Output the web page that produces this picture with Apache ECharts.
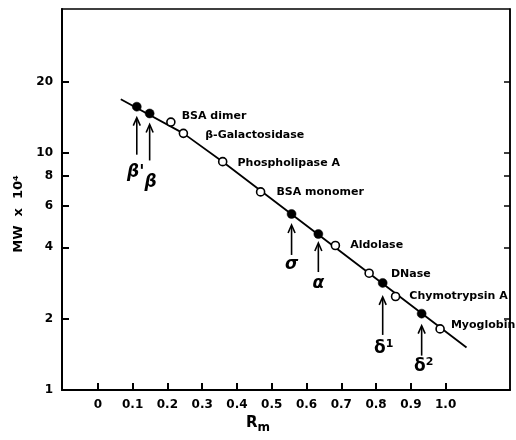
<!DOCTYPE html>
<html><head><meta charset="utf-8">
<script src="https://cdn.jsdelivr.net/npm/echarts@6/dist/echarts.min.js"></script>
<style>html,body{margin:0;padding:0;background:#fff}#c{width:516px;height:440px}</style>
</head><body><div id="c"></div>
<script>
// ---- data ----
const xTicks = [0, 0.1, 0.2, 0.3, 0.4, 0.5, 0.6, 0.7, 0.8, 0.9, 1.0];
const xTickLabels = ['0', '0.1', '0.2', '0.3', '0.4', '0.5', '0.6', '0.7', '0.8', '0.9', '1.0'];
const yTicks = [1, 2, 4, 6, 8, 10, 20];

// calibration proteins (open circles)
const stdNames = ['BSA dimer', 'β-Galactosidase', 'Phospholipase A', 'BSA monomer', 'Aldolase', 'DNase', 'Chymotrypsin A', 'Myoglobin'];
const stdRm = [0.210, 0.246, 0.359, 0.468, 0.683, 0.780, 0.856, 0.984];
const stdMW = [13.5, 12.1, 9.19, 6.85, 4.07, 3.11, 2.48, 1.81];

// unknown components (filled circles)
const unkNames = ["β'", 'β', 'σ', 'α', 'δ1', 'δ2'];
const unkRm = [0.112, 0.149, 0.557, 0.634, 0.819, 0.931];
const unkMW = [15.68, 14.68, 5.53, 4.55, 2.83, 2.10];

// calibration line vertices
const lineRm = [0.066, 0.246, 0.359, 1.060];
const lineMW = [16.85, 12.1, 9.19, 1.51];

// ---- styling (positions of annotations, not data) ----
const stdLabelOffset = [[1, -6], [12, 2], [5, 1], [6, 0], [5, 0], [12, 1], [4, 0], [1, -4]];
// arrow: head / tail / label distance below the point (px), label dx
const arrowStyle = [
  {head: 11, tail: 48, label: 66, dx: -1},
  {head: 11, tail: 47, label: 69, dx: 1},
  {head: 11, tail: 41, label: 51, dx: 0},
  {head: 9, tail: 38, label: 50, dx: 0},
  {head: 14, tail: 52, label: 66, dx: 1},
  {head: 12, tail: 42, label: 53, dx: 2}
];

const FONT = 'DejaVu Sans';
const chart = echarts.init(document.getElementById('c'), null, {renderer: 'canvas'});

chart.setOption({
  animation: false,
  backgroundColor: '#fff',
  grid: {left: 62, top: 9, right: 6, bottom: 50, show: true, borderColor: '#000', borderWidth: 1.5},
  xAxis: {
    type: 'value', min: -0.103, max: 1.185,
    axisLine: {show: true, onZero: false, lineStyle: {color: '#000', width: 2}},
    splitLine: {show: false},
    axisTick: {show: true, inside: true, length: 7, lineStyle: {color: '#000', width: 2}, customValues: xTicks},
    axisLabel: {
      customValues: xTicks, margin: 9, color: '#000', fontFamily: FONT, fontWeight: 'bold', fontSize: 12,
      formatter: v => { const i = xTicks.findIndex(t => Math.abs(t - v) < 1e-6); return i >= 0 ? xTickLabels[i] : ''; }
    },
    name: '{r|R}{m|m}', nameLocation: 'middle', nameGap: 17,
    nameTextStyle: {padding: [0, 56, 0, 0], rich: {
      r: {fontFamily: FONT, fontWeight: 'bold', fontSize: 15, color: '#000'},
      m: {fontFamily: FONT, fontWeight: 'bold', fontSize: 12, color: '#000', padding: [8, 0, 0, 0]}
    }}
  },
  yAxis: [{
    type: 'log', logBase: 10, min: 1, max: 40.5,
    axisLine: {show: true, onZero: false, lineStyle: {color: '#000', width: 2}},
    splitLine: {show: false},
    minorTick: {show: false},
    axisTick: {show: true, inside: true, length: 7, lineStyle: {color: '#000', width: 2}, customValues: yTicks},
    axisLabel: {customValues: yTicks, margin: 9, color: '#000', fontFamily: FONT, fontWeight: 'bold', fontSize: 12},
    name: 'MW  x  10⁴', nameLocation: 'middle', nameGap: 33,
    nameTextStyle: {fontFamily: FONT, fontWeight: 'bold', fontSize: 13, color: '#000', padding: [0, 29, 0, 0]}
  }, {
    type: 'log', logBase: 10, min: 1, max: 40.5, position: 'right',
    axisLine: {show: true, onZero: false, lineStyle: {color: '#000', width: 1.5}},
    splitLine: {show: false},
    axisTick: {show: true, inside: true, length: 6, lineStyle: {color: '#000', width: 1.5}, customValues: yTicks},
    axisLabel: {show: false}
  }],
  series: [
    {
      type: 'line', data: lineRm.map((x, i) => [x, lineMW[i]]),
      symbol: 'none', lineStyle: {color: '#000', width: 1.8}, z: 2, silent: true
    },
    {
      type: 'scatter', data: stdRm.map((x, i) => ({
        value: [x, stdMW[i]], name: stdNames[i],
        label: {offset: stdLabelOffset[i]}
      })),
      symbol: 'circle', symbolSize: 8,
      itemStyle: {color: '#fff', borderColor: '#000', borderWidth: 1.6, opacity: 1},
      label: {show: true, position: 'right', distance: 5, formatter: p => p.name,
        color: '#000', textBorderWidth: 0, fontFamily: FONT, fontWeight: 'bold', fontSize: 11},
      z: 4
    },
    {
      type: 'scatter', data: unkRm.map((x, i) => [x, unkMW[i]]),
      symbol: 'circle', symbolSize: 9,
      itemStyle: {color: '#000', borderColor: '#000', borderWidth: 0.5, opacity: 1},
      z: 5
    },
    {
      type: 'custom', coordinateSystem: 'cartesian2d',
      data: unkRm.map((x, i) => [x, unkMW[i], i]),
      renderItem: function (params, api) {
        const i = api.value(2);
        const p = api.coord([api.value(0), api.value(1)]);
        const a = arrowStyle[i];
        const x = p[0], y = p[1];
        const nm = unkNames[i];
        let text;
        if (nm === 'δ1' || nm === 'δ2') {
          text = '{g|δ}{s|' + nm.slice(1) + '}';
        } else {
          text = '{i|' + nm + '}';
        }
        const rich = {
          g: {fontFamily: FONT, fontSize: 17, fontWeight: 'bold', fill: '#000'},
          s: {fontFamily: FONT, fontSize: 11, fontWeight: 'bold', fill: '#000', padding: [0, 0, 9, 0]},
          i: {fontFamily: FONT, fontSize: 17, fontStyle: 'italic', fontWeight: 'bold', fill: '#000'}
        };
        return {
          type: 'group',
          children: [
            {type: 'line', shape: {x1: x, y1: y + a.tail, x2: x, y2: y + a.head + 1},
              style: {stroke: '#000', lineWidth: 1.6}},
            {type: 'polyline', shape: {points: [[x - 3.5, y + a.head + 8], [x, y + a.head], [x + 3.5, y + a.head + 8]]},
              style: {stroke: '#000', fill: null, lineWidth: 1.6}},
            {type: 'text', x: x + a.dx, y: y + a.label,
              style: {text: text, rich: rich, align: 'center', verticalAlign: 'middle'}}
          ]
        };
      },
      z: 3, silent: true
    }
  ]
});
</script>
</body></html>
